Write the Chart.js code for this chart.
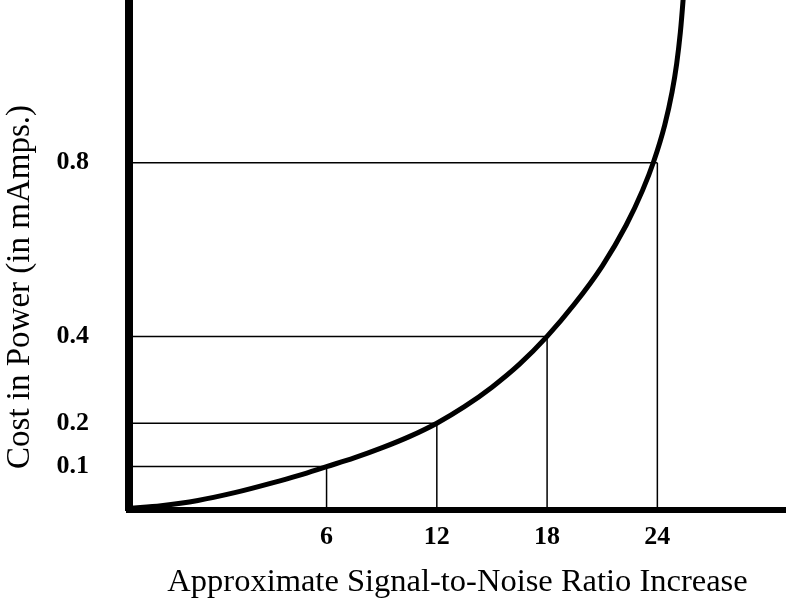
<!DOCTYPE html>
<html>
<head>
<meta charset="utf-8">
<script src="https://cdn.jsdelivr.net/npm/chart.js@4/dist/chart.umd.min.js"></script>
<style>
  html, body { margin: 0; padding: 0; background: #fff; }
  #wrap { width: 786px; height: 606px; }
</style>
</head>
<body>
<div id="wrap"><canvas id="myChart"></canvas></div>
<script>
// tick values (SNR increase, dB) and matching power costs
const snrTicks = [6, 12, 18, 24];
const powerTicks = [0.1, 0.2, 0.4, 0.8];

// curve
const curveX = [-4.7, -3, -1, 1, 3, 4.5, 6, 7.5, 9, 10.5, 12, 13.5, 15, 16.5, 18, 19.5, 21, 22.3, 23.2, 23.8, 24.4, 24.8, 25.05, 25.25, 25.4, 25.55];
const curveY = [0.004, 0.01, 0.022, 0.04, 0.062, 0.08, 0.1, 0.12, 0.143, 0.169, 0.2, 0.238, 0.283, 0.336, 0.4, 0.475, 0.562, 0.656, 0.737, 0.803, 0.887, 0.963, 1.028, 1.1, 1.175, 1.265];

const xMin = -4.75;
const xMax = 31;
const yMax = 1.175;

const serif = "'Liberation Serif', 'Times New Roman', serif";

const guides = [];
snrTicks.forEach((s, i) => {
  const p = powerTicks[i];
  guides.push({
    data: [{ x: xMin, y: p }, { x: s, y: p }],
    borderColor: "#000",
    borderWidth: 1.5,
    pointRadius: 0,
  });
  guides.push({
    data: [{ x: s, y: 0 }, { x: s, y: p }],
    borderColor: "#000",
    borderWidth: 1.5,
    pointRadius: 0,
  });
});

const data = {
  datasets: [
    {
      label: "Cost",
      data: curveX.map((x, i) => ({ x: x, y: curveY[i] })),
      borderColor: "#000",
      borderWidth: 5,
      pointRadius: 0,
      cubicInterpolationMode: "monotone",
      fill: false,
    },
    ...guides,
  ],
};

// y title drawn by hand so it can sit lower than the chart-area middle
const yTitle = {
  id: "yTitle",
  afterDraw(chart) {
    const ctx = chart.ctx;
    ctx.save();
    ctx.translate(20, 287);
    ctx.rotate(-Math.PI / 2);
    ctx.font = "33px " + serif;
    ctx.fillStyle = "#000";
    ctx.textAlign = "center";
    ctx.textBaseline = "middle";
    ctx.fillText("Cost in Power (in mAmps.)", 0, 0);
    ctx.restore();
  },
};

const config = {
  type: "line",
  data: data,
  plugins: [yTitle],
  options: {
    responsive: true,
    maintainAspectRatio: false,
    animation: false,
    layout: { padding: 0 },
    plugins: { legend: { display: false }, tooltip: { enabled: false } },
    scales: {
      x: {
        type: "linear",
        min: xMin,
        max: xMax,
        afterFit: (s) => {
          s.height = 96;
          s.paddingLeft = 0;
          s.paddingRight = 0;
        },
        afterBuildTicks: (s) => { s.ticks = snrTicks.map((v) => ({ value: v })); },
        grid: { display: false },
        border: { display: true, color: "#000", width: 6 },
        ticks: {
          color: "#000",
          padding: 4,
          maxRotation: 0,
          font: { family: serif, size: 26, weight: "bold" },
        },
        title: {
          display: true,
          text: "Approximate Signal-to-Noise Ratio Increase",
          color: "#000",
          padding: { top: 0, bottom: 4 },
          font: { family: serif, size: 32.5 },
        },
      },
      y: {
        type: "linear",
        min: 0,
        max: yMax,
        afterFit: (s) => {
          s.width = 129;
          s.paddingTop = 0;
          s.paddingBottom = 0;
        },
        afterBuildTicks: (s) => { s.ticks = powerTicks.map((v) => ({ value: v })); },
        grid: { display: false },
        border: { display: true, color: "#000", width: 8 },
        ticks: {
          color: "#000",
          padding: 32,
          font: { family: serif, size: 26, weight: "bold" },
          callback: (v) => v.toFixed(1),
        },
      },
    },
  },
};
let myChart = new Chart(document.getElementById("myChart"), config);
</script>
</body>
</html>
